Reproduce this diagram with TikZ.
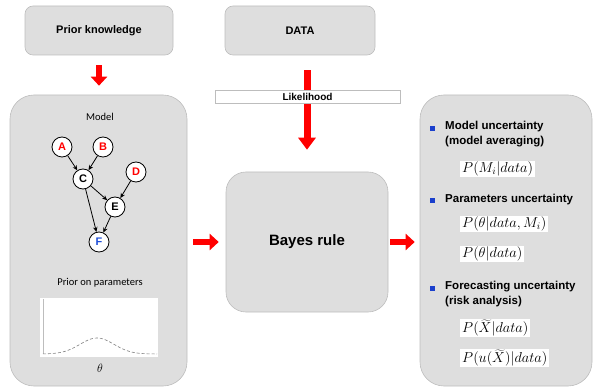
\documentclass[tikz,border=0pt]{standalone}
\usepackage{fontspec}
\setmainfont{Liberation Sans}
\newfontfamily\calibrifont{Carlito}
\usetikzlibrary{arrows.meta}
\definecolor{IBcolBox}{HTML}{DEDEDE}
\definecolor{IBcolLine}{HTML}{BDBDBD}
\definecolor{IBcolRed}{HTML}{FF0000}
\definecolor{IBcolBlue}{HTML}{1F4FD8}
\definecolor{IBcolBullet}{HTML}{1A3FCC}
\tikzset{
  stagebox/.style={draw=IBcolLine, fill=IBcolBox, line width=0.6pt, inner sep=0pt},
  redarrow/.style={draw=IBcolRed, line width=6pt, -{Triangle[width=16pt,length=9pt]}},
  varnode/.style={circle, draw=black, fill=white, line width=0.8pt, minimum size=20pt,
    inner sep=0pt, font=\bfseries\fontsize{11}{11}\selectfont},
  dagedge/.style={draw=black, line width=0.8pt, -{Stealth[length=5pt,width=4.5pt]}},
  bulletsq/.style={fill=IBcolBullet, minimum size=5pt, inner sep=0pt},
  itemtext/.style={anchor=west, align=left, inner sep=0pt, font=\bfseries\fontsize{11.5}{15}\selectfont},
  formula/.style={anchor=west, fill=white, inner xsep=2pt, inner ysep=0.5pt, font=\fontsize{14}{14}\selectfont}
}

\begin{document}
\begin{tikzpicture}[x=1pt, y=-1pt]
  \useasboundingbox (0,0) rectangle (594,387);
  \node[stagebox, rounded corners=8pt, minimum width=148pt, minimum height=49pt,
    font=\bfseries\fontsize{11}{11}\selectfont] (prior) at (99,30.5) {Prior knowledge};
  \node[stagebox, rounded corners=8pt, minimum width=150pt, minimum height=49pt,
    font=\bfseries\fontsize{11}{11}\selectfont] (data) at (300,30.5) {DATA};
  \node[stagebox, rounded corners=24pt, minimum width=177pt, minimum height=291pt] (model) at (98.5,240.5) {};
  \node[stagebox, rounded corners=20pt, minimum width=162pt, minimum height=140pt,
    font=\bfseries\fontsize{15}{15}\selectfont] (bayes) at (307,242) {Bayes rule};
  \node[stagebox, rounded corners=24pt, minimum width=172pt, minimum height=291pt] (result) at (506,240.5) {};

  \draw[redarrow, shorten <=10pt, shorten >=9pt] (prior.south) -- (prior.south |- model.north);
  \draw[redarrow, line width=7pt, -{Triangle[width=17pt,length=12pt]}, shorten <=15pt, shorten >=22pt]
    (bayes.north |- data.south) -- (bayes.north);
  \draw[redarrow, line width=5.5pt, shorten <=6pt, shorten >=7pt] (model.east |- bayes) -- (bayes.west);
  \draw[redarrow, line width=5.5pt, shorten <=2pt, shorten >=5pt] (bayes.east) -- (bayes.east -| result.west);
  \node[draw=IBcolLine, fill=white, line width=0.6pt, minimum width=185pt, minimum height=13pt, inner sep=0pt,
    font=\bfseries\fontsize{10}{10}\selectfont] (lik) at (307.5,96.5) {Likelihood};

  \node[font=\calibrifont\fontsize{10.5}{10.5}\selectfont] (modeltitle) at (100,117) {Model};
  \node[varnode, text=IBcolRed] (A) at (62,147) {A};
  \node[varnode, text=IBcolRed] (B) at (103,147) {B};
  \node[varnode] (C) at (83,179) {C};
  \node[varnode, text=IBcolRed] (D) at (136,172) {D};
  \node[varnode] (E) at (115,207) {E};
  \node[varnode, text=IBcolBlue] (F) at (99,242) {F};
  \draw[dagedge] (A) -- (C);
  \draw[dagedge] (B) -- (C);
  \draw[dagedge] (D) -- (E);
  \draw[dagedge] (C) -- (E);
  \draw[dagedge] (C) -- (F);
  \draw[dagedge] (E) -- (F);

  \node[font=\calibrifont\fontsize{10.5}{10.5}\selectfont] (priortitle) at (100,283) {Prior on parameters};
  \node[fill=white, minimum width=118pt, minimum height=59pt, inner sep=0pt] (plot) at (99,327.5) {};
  \draw[IBcolLine, line width=0.8pt] (43,299) -- (43,354);
  \draw[gray, line width=0.6pt, dash pattern=on 3pt off 2pt] plot[domain=43:157, samples=60]
    (\x, {354-16*exp(-((\x-97)/24)^2)});
  \node[font=\fontsize{12}{12}\selectfont] (theta) at (100,368) {$\theta$};

  \node[bulletsq] (b1) at (432,129) {};
  \node[itemtext] (t1) at (445,134.5) {Model uncertainty\\(model averaging)};
  \node[formula] (f1) at (460,169) {$P(M_i\big|data)$};
  \node[bulletsq] (b2) at (432,201) {};
  \node[itemtext] (t2) at (445,200) {Parameters uncertainty};
  \node[formula] (f2) at (460,224) {$P(\theta\big|data,M_i)$};
  \node[formula] (f3) at (460,254) {$P(\theta\big|data)$};
  \node[bulletsq] (b3) at (432,288) {};
  \node[itemtext] (t3) at (445,294.5) {Forecasting uncertainty\\(risk analysis)};
  \node[formula] (f4) at (460,328) {$P(\widetilde{X}\big|data)$};
  \node[formula] (f5) at (460,358) {$P(u(\widetilde{X})\big|data)$};
\end{tikzpicture}
\end{document}
